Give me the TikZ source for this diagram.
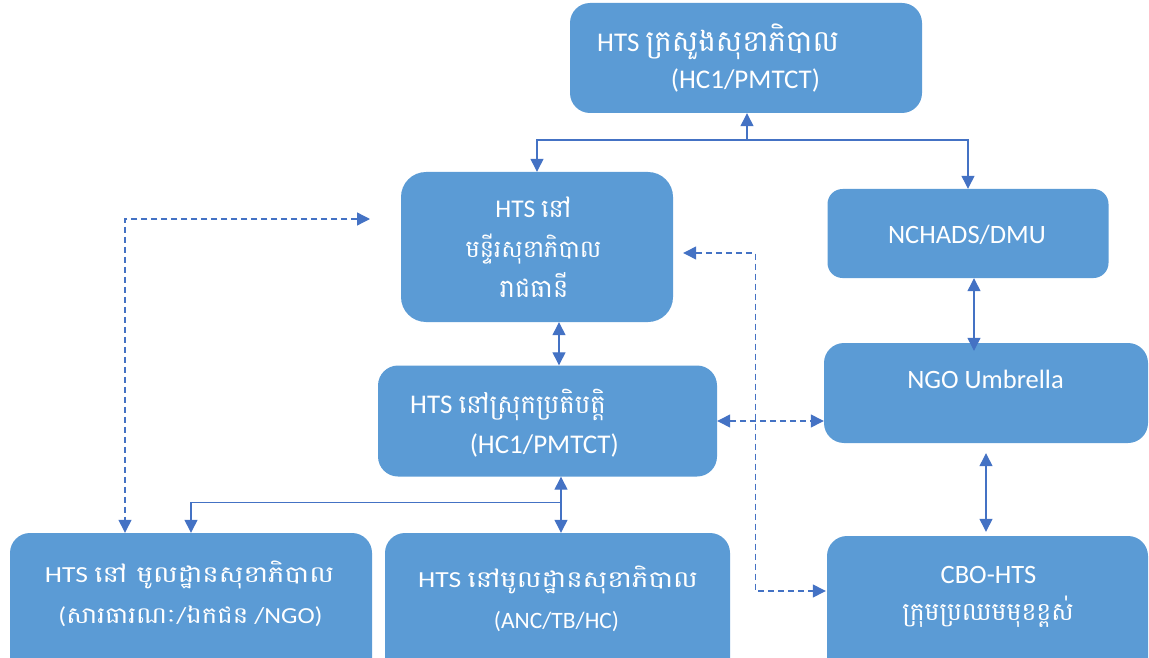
\documentclass[tikz,border=0pt]{standalone}
\usepackage{fontspec}
\setmainfont{Carlito}
\newfontfamily\kh[Script=Khmer]{Battambang}
\usetikzlibrary{arrows.meta,calc}
\definecolor{boxfill}{HTML}{5B9BD5}
\definecolor{linkblue}{HTML}{4472C4}
% font size in pt, leading derived from it
\newcommand{\fsz}[1]{\fontsize{#1}{#1}\selectfont}
% Khmer run at a given size
\newcommand{\khs}[2]{{\kh\fsz{#1}#2}}
\tikzset{
  x=1pt, y=-1pt,
  unit/.style={draw=none, fill=boxfill, rounded corners=20pt, inner sep=0pt},
  txt/.style={text=white, inner sep=0pt, font=\fsz{27}},
  link/.style={draw=linkblue, line width=1.3pt,
    arrows={Triangle[length=13pt,width=13pt]-Triangle[length=13pt,width=13pt]}},
  solo/.style={draw=linkblue, line width=1.3pt, -{Triangle[length=13pt,width=13pt]}},
  plain/.style={draw=linkblue, line width=1.3pt},
  dlink/.style={link, dash pattern=on 6pt off 4pt},
}
\begin{document}
\begin{tikzpicture}
\useasboundingbox (0,0) rectangle (1149,658);
\clip (0,0) rectangle (1149,658);

% boxes
\node[unit, minimum width=352pt, minimum height=110pt] (top) at (746,58) {};
\node[unit, minimum width=272pt, minimum height=150pt, rounded corners=25pt] (hq) at (537,247) {};
\node[unit, minimum width=281pt, minimum height=89pt, rounded corners=15pt] (nchads) at (968,233.5) {};
\node[unit, minimum width=324pt, minimum height=100pt] (ngo) at (986,393) {};
\node[unit, minimum width=339pt, minimum height=111pt] (od) at (547.5,421) {};
\node[unit, minimum width=362pt, minimum height=147pt] (hcl) at (191,606.5) {};
\node[unit, minimum width=345pt, minimum height=147pt] (hcm) at (557.5,606.5) {};
\node[unit, minimum width=321pt, minimum height=144pt] (cbo) at (987.5,608) {};

% texts
\node[txt, anchor=base west] (topA) at (597,52) {HTS \khs{29.5}{ក្រសួងសុខាភិបាល}};
\node[txt, anchor=base] (topB) at (745.5,89) {(HC1/PMTCT)};
\node[txt, font=\fsz{25.5}, anchor=base] (hqA) at (533.5,217) {HTS {\kh នៅ}};
\node[txt, anchor=base] (hqB) at (533.5,257) {\khs{24}{មន្ទីរសុខាភិបាល}};
\node[txt, anchor=base] (hqC) at (534,297) {\khs{25.5}{រាជធានី}};
\node[txt, font=\fsz{26.5}, anchor=base] (nchadsA) at (967,243) {NCHADS/DMU};
\node[txt, font=\fsz{26.5}, anchor=base] (ngoA) at (985.5,388) {NGO Umbrella};
\node[txt, anchor=base west] (odA) at (410,413) {HTS \khs{26}{នៅស្រុកប្រតិបត្តិ}};
\node[txt, anchor=base east] (odB) at (619,453) {(HC1/PMTCT)};
\node[txt, font=\fsz{23}, anchor=base] (hclA) at (189.5,582)
  {\scalebox{1.2}[1]{HTS {\kh នៅ មូលដ្ឋានសុខាភិបាល}}};
\node[txt, font=\fsz{23}, anchor=base] (hclB) at (190.5,623)
  {\scalebox{1.13}[1]{({\kh សារធារណៈ}/{\kh ឯកជន} /NGO)}};
\node[txt, font=\fsz{23}, anchor=base] (hcmA) at (558,587)
  {\scalebox{1.2}[1]{HTS {\kh នៅមូលដ្ឋានសុខាភិបាល}}};
\node[txt, font=\fsz{23.5}, anchor=base] (hcmB) at (556.5,628) {(ANC/TB/HC)};
\node[txt, font=\fsz{26.5}, anchor=base] (cboA) at (988.5,583) {CBO-HTS};
\node[txt, anchor=base] (cboB) at (988,620) {\khs{25}{ក្រុមប្រឈមមុខខ្ពស់}};

% solid links
\coordinate (split) at (747,140);
\draw[solo] (split) -- (top.south -| split);
\draw[plain] (hq.north |- split) -- (nchads.north |- split);
\draw[solo] (split) -| (hq.north);
\draw[solo] (split) -| (nchads.north);
\draw[link] ($(hq.south)+(22,0)$) -- ($(od.north)+(11.5,0)$);
\coordinate (fork) at ($(od.south)+(13.5,26)$);
\draw[link] ($(od.south)+(13.5,0)$) -- ($(hcm.north)+(3.5,0)$);
\draw[solo] (fork) -| (hcl.north);
\draw[link] ($(nchads.south)+(6,0)$) -- ($(ngo.north)+(-12,8)$);
\draw[link] ($(ngo.south)+(0,10)$) -- ($(cbo.north)+(-1.5,-4)$);

% dashed links
\coordinate (hqhint) at (370,219);
\draw[dlink] (hqhint) -| ($(hcl.north)+(-66,0)$);
\draw[dlink] ($(hq.east)+(10,6)$) -- ++(72,0) |- ($(cbo.west)+(-1,-17)$);
\draw[dlink] (od.east) -- (od.east -| ngo.west);
\end{tikzpicture}
\end{document}
